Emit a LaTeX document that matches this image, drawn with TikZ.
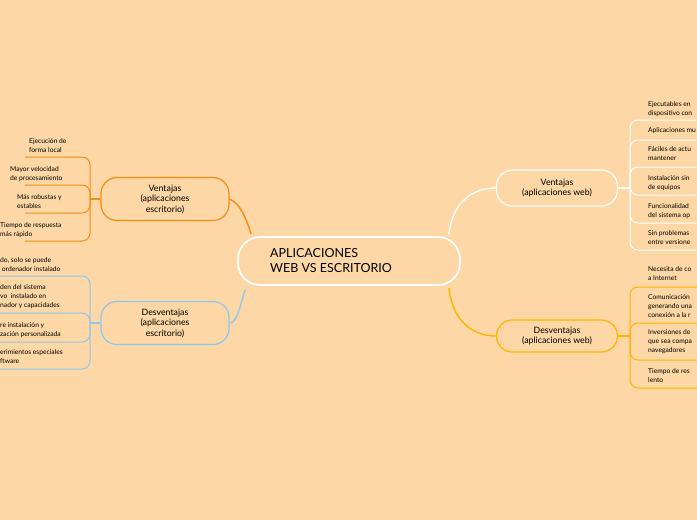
\documentclass[tikz,border=0pt]{standalone}
\usepackage{fontspec}
\setmainfont{Lato}
\definecolor{bg}{RGB}{253,215,165}
\definecolor{org}{RGB}{245,140,20}
\definecolor{blu}{RGB}{140,200,240}
\definecolor{yel}{RGB}{255,180,0}
\begin{document}
\begin{tikzpicture}[x=1pt,y=-1pt,
  box/.style={draw,line width=1.2pt,rounded corners=16pt,align=center,font=\fontsize{8.8}{10.5}\selectfont,inner sep=0pt},
  leafL/.style={anchor=west,align=left,font=\fontsize{6.7}{9}\selectfont,inner sep=0pt},
  leafR/.style={anchor=west,align=left,font=\fontsize{6.7}{9}\selectfont,inner sep=0pt},
  br/.style={line width=1pt,rounded corners=8pt}]
\fill[bg] (0,0) rectangle (697,520);
\clip (0,0) rectangle (697,520);
\node[box,draw=white,line width=1.8pt,minimum width=222pt,minimum height=48pt,rounded corners=22pt] (c) at (349,261) {};
\node[anchor=west,align=left,font=\fontsize{12.5}{15}\selectfont,inner sep=0pt] (ct) at (270,261) {APLICACIONES\\WEB VS ESCRITORIO};
\node[box,draw=org,minimum width=128pt,minimum height=43pt] (lv) at (165,199) {Ventajas\\(aplicaciones\\escritorio)};
\node[box,draw=blu,minimum width=128pt,minimum height=43pt] (ld) at (165,323) {Desventajas\\(aplicaciones\\escritorio)};
\node[box,draw=white,minimum width=121pt,minimum height=36pt] (rv) at (557,188) {Ventajas\\(aplicaciones web)};
\node[box,draw=yel,minimum width=121pt,minimum height=32pt] (rd) at (557,336) {Desventajas\\(aplicaciones web)};
\draw[org,line width=1.4pt] ([xshift=14pt,yshift=2pt]c.north west) .. controls (245,215) and (240,204) .. (lv.east);
\draw[blu,line width=1.4pt] ([xshift=8pt,yshift=-4pt]c.south west) .. controls (240,305) and (238,322) .. (ld.east);
\draw[white,line width=1.4pt] ([xshift=-12pt,yshift=2pt]c.north east) .. controls (452,205) and (470,188) .. (rv.west);
\draw[yel,line width=1.4pt] ([xshift=-12pt,yshift=-2pt]c.south east) .. controls (452,318) and (470,336) .. (rd.west);
\draw[org,line width=1.4pt] (lv.west) -- (90,199) coordinate (jlv);
\foreach \y in {157,185,213,241}{\draw[org,br] (jlv) -- (90,\y) -- (25,\y);}
\node[leafL] (l1) at (29,146) {Ejecución de\\forma local};
\node[leafL] (l2) at (10,174) {Mayor velocidad\\de procesamiento};
\node[leafL] (l3) at (17,202) {Más robustas y\\estables};
\node[leafL] (l4) at (0,230) {Tiempo de respuesta\\más rápido};
\draw[blu,line width=1.4pt] (ld.west) -- (90,323) coordinate (jld);
\foreach \y in {276,313,342,369}{\draw[blu,br] (jld) -- (90,\y) -- (-5,\y);}
\node[leafL] (l5) at (0,265) {do, solo se puede\\\ ordenador instalado};
\node[leafL] (l6) at (0,297) {den del sistema\\vo\ \ instalado en\\nador y capacidades};
\node[leafL] (l7) at (0,330) {re instalación y\\zación personalizada};
\node[leafL] (l8) at (0,357) {erimientos especiales\\ftware};
\draw[white,line width=1.4pt] (rv.east) -- (630,188) coordinate (jrv);
\foreach \y in {120,140,167,195,223,250}{\draw[white,br] (jrv) -- (630,\y) -- (705,\y);}
\node[leafR] (r1) at (648,109) {Ejecutables en\\dispositivo con};
\node[leafR] (r2) at (648,131) {Aplicaciones mu};
\node[leafR] (r3) at (648,154) {Fáciles de actu\\mantener};
\node[leafR] (r4) at (648,183) {Instalación sin\\de equipos};
\node[leafR] (r5) at (648,211) {Funcionalidad\\del sistema op};
\node[leafR] (r6) at (648,238) {Sin problemas\\entre versione};
\draw[yel,line width=1.4pt] (rd.east) -- (630,336) coordinate (jrd);
\foreach \y in {287,323,360,388}{\draw[yel,br] (jrd) -- (630,\y) -- (705,\y);}
\node[leafR] (r7) at (648,274) {Necesita de co\\a Internet};
\node[leafR] (r8) at (648,306) {Comunicación\\generando una\\conexión a la r};
\node[leafR] (r9) at (648,342) {Inversiones de\\que sea compa\\navegadores};
\node[leafR] (r10) at (648,376) {Tiempo de res\\lento};
\end{tikzpicture}
\end{document}
